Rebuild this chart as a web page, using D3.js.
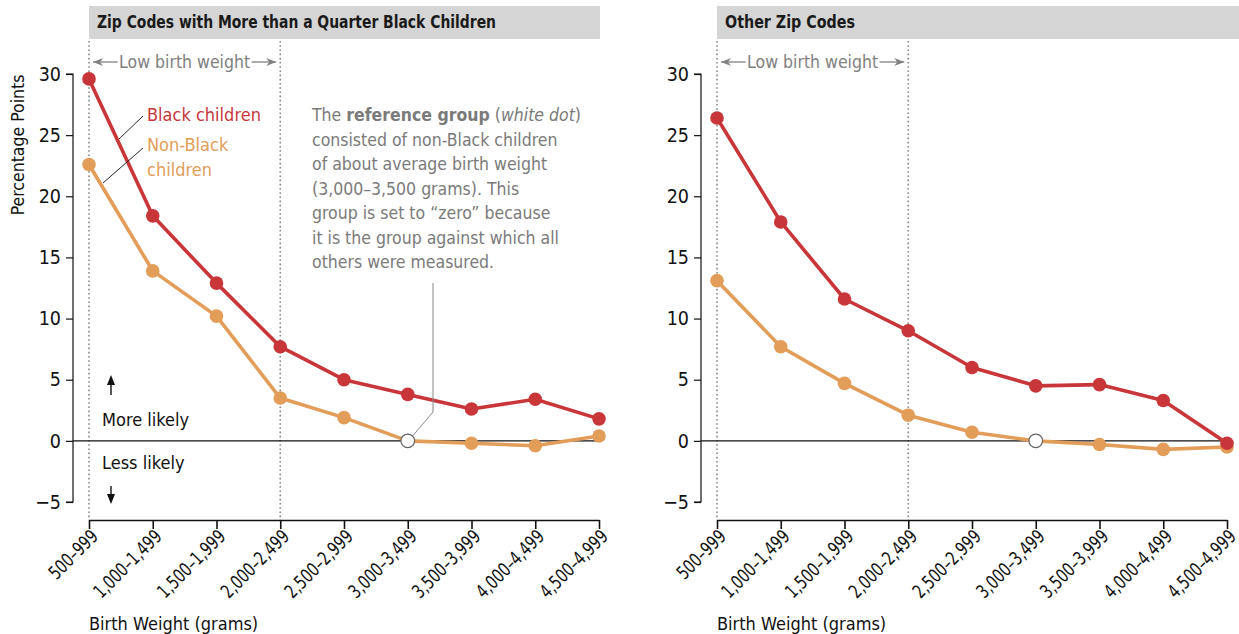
<!DOCTYPE html>
<html>
<head>
<meta charset="utf-8">
<script src="https://cdn.jsdelivr.net/npm/d3@7"></script>
<style>
  body { margin: 0; background: #fff; }
  text { font-family: "DejaVu Sans Condensed", "DejaVu Sans", sans-serif; font-stretch: condensed; }
</style>
</head>
<body>
<svg id="chart" width="1239" height="634"></svg>
<script>
// Birth weight bins (x categories)
const categories = ["500–999", "1,000–1,499", "1,500–1,999", "2,000–2,499", "2,500–2,999",
  "3,000–3,499", "3,500–3,999", "4,000–4,499", "4,500–4,999"];

// Zip codes with more than a quarter Black children
const quarterBlack = [29.6, 18.4, 12.9, 7.7, 5.0, 3.8, 2.6, 3.4, 1.8];
const quarterNonBlack = [22.6, 13.9, 10.2, 3.5, 1.9, 0, -0.2, -0.4, 0.4];

// Other zip codes
const otherBlack = [26.4, 17.9, 11.6, 9.0, 6.0, 4.5, 4.6, 3.3, -0.2];
const otherNonBlack = [13.1, 7.7, 4.7, 2.1, 0.7, 0, -0.3, -0.7, -0.5];

const yTicks = [-5, 0, 5, 10, 15, 20, 25, 30];
const refIndex = 5; // reference group (white dot)

const red = "#c8363a";
const orange = "#e29d58";
const gray = "#808080";
const fontStack = "'DejaVu Sans Condensed', 'DejaVu Sans', sans-serif";

const svg = d3.select("#chart");

const y = d3.scaleLinear().domain([-5, 30]).range([502, 74]);

function drawPanel(opts) {
  const g = svg.append("g").attr("transform", `translate(${opts.left},0)`);

  const x = d3.scalePoint()
    .domain(categories)
    .range([opts.x0, opts.x1]);

  // title bar
  g.append("rect")
    .attr("x", opts.x0)
    .attr("y", 6)
    .attr("width", opts.barWidth)
    .attr("height", 33)
    .attr("fill", "#d5d5d5");
  g.append("text")
    .attr("x", opts.x0 + 8)
    .attr("y", 28)
    .attr("font-size", "17.5px")
    .attr("font-weight", "bold")
    .attr("fill", "#1a1a1a")
    .attr("textLength", opts.titleLen)
    .attr("lengthAdjust", "spacingAndGlyphs")
    .text(opts.title);

  // low birth weight dotted markers
  [categories[0], categories[3]].forEach(c => {
    g.append("line")
      .attr("x1", x(c)).attr("x2", x(c))
      .attr("y1", 41).attr("y2", 520)
      .attr("stroke", "#888")
      .attr("stroke-width", 1.6)
      .attr("stroke-dasharray", "1.6,2.6");
  });
  const lbY = 62;
  const lbX0 = x(categories[0]) + 4, lbX1 = x(categories[3]) - 4;
  const lbMid = (lbX0 + lbX1) / 2;
  g.append("text")
    .attr("x", lbMid)
    .attr("y", lbY + 6)
    .attr("text-anchor", "middle")
    .attr("font-size", "17.5px")
    .attr("fill", gray)
    .text("Low birth weight");
  [[lbX0, lbMid - 67], [lbX1, lbMid + 67]].forEach(([tip, tail]) => {
    g.append("line")
      .attr("x1", tail).attr("x2", tip)
      .attr("y1", lbY).attr("y2", lbY)
      .attr("stroke", gray).attr("stroke-width", 1.3);
    const dir = tip > tail ? -1 : 1;
    g.append("path")
      .attr("d", `M${tip},${lbY} L${tip + dir * 10},${lbY - 4} L${tip + dir * 7},${lbY} L${tip + dir * 10},${lbY + 4} Z`)
      .attr("fill", gray);
  });

  // y axis
  const yAxis = g.append("g")
    .attr("transform", `translate(${opts.yAxisX},0)`)
    .call(d3.axisLeft(y).tickValues(yTicks).tickSize(7).tickPadding(5).tickFormat(d => d < 0 ? "−" + Math.abs(d) : d));
  yAxis.select(".domain").attr("stroke", "#111").attr("stroke-width", 1.2).attr("d", `M-7,${y(30)}H0V${y(-5)}H-7`);
  yAxis.selectAll(".tick line").attr("stroke", "#111").attr("stroke-width", 1.2);
  yAxis.selectAll(".tick text")
    .attr("font-family", fontStack)
    .attr("font-size", "19.5px")
    .attr("fill", "#111");

  // zero line
  g.append("line")
    .attr("x1", opts.yAxisX).attr("x2", opts.x1)
    .attr("y1", y(0)).attr("y2", y(0))
    .attr("stroke", "#111").attr("stroke-width", 1.1);

  // x axis
  const xAxis = g.append("g")
    .attr("transform", "translate(0,520)")
    .call(d3.axisBottom(x).tickSize(9).tickSizeOuter(0).tickPadding(6));
  xAxis.select(".domain").attr("stroke", "#111").attr("stroke-width", 1.6);
  xAxis.selectAll(".tick line").attr("stroke", "#111").attr("stroke-width", 1.6);
  xAxis.selectAll(".tick text")
    .attr("font-family", fontStack)
    .attr("font-size", "19px")
    .attr("fill", "#111")
    .attr("text-anchor", "end")
    .attr("dy", "0.35em")
    .attr("transform", "translate(5,13) rotate(-45) scale(0.82,1)")
    .attr("x", 0)
    .attr("y", 0);

  g.append("text")
    .attr("x", opts.x0)
    .attr("y", 630)
    .attr("font-size", "18px")
    .attr("fill", "#111")
    .text("Birth Weight (grams)");

  // series
  const line = d3.line()
    .x((d, i) => x(categories[i]))
    .y(d => y(d));

  [[opts.nonBlack, orange], [opts.black, red]].forEach(([vals, col]) => {
    g.append("path")
      .attr("d", line(vals))
      .attr("fill", "none")
      .attr("stroke", col)
      .attr("stroke-width", 3.6)
      .attr("stroke-linejoin", "round");
  });

  [[opts.nonBlack, orange, true], [opts.black, red, false]].forEach(([vals, col, hasRef]) => {
    g.selectAll(null)
      .data(vals)
      .enter()
      .append("circle")
      .attr("cx", (d, i) => x(categories[i]))
      .attr("cy", d => y(d))
      .attr("r", 6.8)
      .attr("fill", (d, i) => hasRef && i === refIndex ? "#fff" : col)
      .attr("stroke", (d, i) => hasRef && i === refIndex ? "#666" : "none")
      .attr("stroke-width", 1.2);
  });

  return { g, x };
}

const left = drawPanel({
  left: 0, x0: 89, x1: 599, barWidth: 511, yAxisX: 73,
  title: "Zip Codes with More than a Quarter Black Children", titleLen: 399,
  black: quarterBlack, nonBlack: quarterNonBlack
});

const right = drawPanel({
  left: 628, x0: 89, x1: 599, barWidth: 530, yAxisX: 73,
  title: "Other Zip Codes", titleLen: 130,
  black: otherBlack, nonBlack: otherNonBlack
});

const lg = left.g;

// y axis title
lg.append("text")
  .attr("transform", "translate(24,145) rotate(-90)")
  .attr("text-anchor", "middle")
  .attr("font-size", "17.5px")
  .attr("fill", "#111")
  .text("Percentage Points");

// legend labels with leader lines (left panel)
lg.append("text").attr("x", 147).attr("y", 121).attr("font-size", "18px").attr("fill", red).text("Black children");
lg.append("text").attr("x", 147).attr("y", 151).attr("font-size", "18px").attr("fill", orange).text("Non-Black");
lg.append("text").attr("x", 147).attr("y", 176).attr("font-size", "18px").attr("fill", orange).text("children");
lg.append("line").attr("x1", 143).attr("y1", 116).attr("x2", 119).attr("y2", 139).attr("stroke", "#111").attr("stroke-width", 0.9);
lg.append("line").attr("x1", 143).attr("y1", 148).attr("x2", 103).attr("y2", 183).attr("stroke", "#111").attr("stroke-width", 0.9);

// more / less likely
lg.append("text").attr("x", 102).attr("y", 426).attr("font-size", "18px").attr("fill", "#111").text("More likely");
lg.append("text").attr("x", 102).attr("y", 469).attr("font-size", "18px").attr("fill", "#111").text("Less likely");
lg.append("line").attr("x1", 111).attr("x2", 111).attr("y1", 395).attr("y2", 382).attr("stroke", "#111").attr("stroke-width", 1.4);
lg.append("path").attr("d", "M111,375 L107,385 L115,385 Z").attr("fill", "#111");
lg.append("line").attr("x1", 111).attr("x2", 111).attr("y1", 486).attr("y2", 497).attr("stroke", "#111").attr("stroke-width", 1.4);
lg.append("path").attr("d", "M111,504 L107,494 L115,494 Z").attr("fill", "#111");

// reference group annotation
const note = lg.append("text").attr("font-size", "17.5px").attr("fill", "#7a7a7a");
const noteLines = [
  [["The ", "normal", "normal"], ["reference group", "bold", "normal"], [" (", "normal", "normal"], ["white dot", "normal", "italic"], [")", "normal", "normal"]],
  [["consisted of non-Black children", "normal", "normal"]],
  [["of about average birth weight", "normal", "normal"]],
  [["(3,000–3,500 grams). This", "normal", "normal"]],
  [["group is set to \u201Czero\u201D because", "normal", "normal"]],
  [["it is the group against which all", "normal", "normal"]],
  [["others were measured.", "normal", "normal"]]
];
noteLines.forEach((parts, i) => {
  parts.forEach((p, j) => {
    const t = note.append("tspan")
      .attr("font-weight", p[1])
      .attr("font-style", p[2])
      .text(p[0]);
    if (j === 0) t.attr("x", 312).attr("y", 121 + i * 24.5);
  });
});
const refX = left.x(categories[refIndex]);
lg.append("path")
  .attr("d", `M433,283 V412 L${refX + 5},${y(0) - 5}`)
  .attr("fill", "none")
  .attr("stroke", "#888")
  .attr("stroke-width", 1);
</script>
</body>
</html>
